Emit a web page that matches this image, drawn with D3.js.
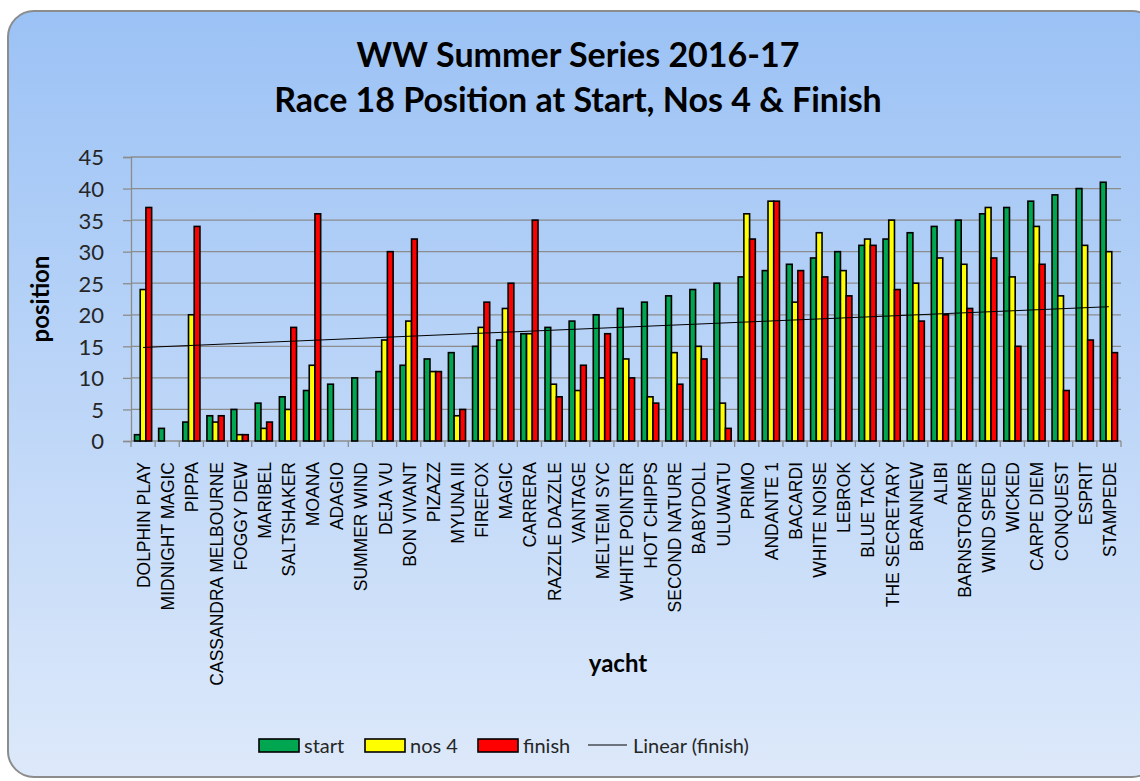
<!DOCTYPE html>
<html lang="en">
<head>
<meta charset="UTF-8">
<title>WW Summer Series 2016-17</title>
<script src="https://d3js.org/d3.v7.min.js"></script>
<style>
  body { margin: 0; background: #fff; }
  svg { display: block; }
  .title { font-family: Lato, "Open Sans", sans-serif; font-weight: bold; font-size: 34px; fill: #000; }
  .ytick text { font-family: Lato, sans-serif; font-size: 22px; fill: #262626; }
  .xcat { font-family: "Liberation Sans", Arial, sans-serif; font-size: 17.5px; fill: #000; }
  .axis-title { font-family: Lato, sans-serif; font-weight: bold; font-size: 24px; fill: #000; }
  .legend text { font-family: Lato, sans-serif; font-size: 20px; fill: #262626; }
</style>
</head>
<body>
<svg width="1140" height="781"></svg>
<script>
// yachts in order of start position
const yachts = ["DOLPHIN PLAY", "MIDNIGHT MAGIC", "PIPPA", "CASSANDRA MELBOURNE", "FOGGY DEW",
  "MARIBEL", "SALTSHAKER", "MOANA", "ADAGIO", "SUMMER WIND", "DEJA VU", "BON VIVANT", "PIZAZZ",
  "MYUNA III", "FIREFOX", "MAGIC", "CARRERA", "RAZZLE DAZZLE", "VANTAGE", "MELTEMI SYC",
  "WHITE POINTER", "HOT CHIPPS", "SECOND NATURE", "BABYDOLL", "ULUWATU", "PRIMO", "ANDANTE 1",
  "BACARDI", "WHITE NOISE", "LEBROK", "BLUE TACK", "THE SECRETARY", "BRANNEW", "ALIBI",
  "BARNSTORMER", "WIND SPEED", "WICKED", "CARPE DIEM", "CONQUEST", "ESPRIT", "STAMPEDE"];

const start = [1, 2, 3, 4, 5, 6, 7, 8, 9, 10, 11, 12, 13, 14, 15, 16, 17, 18, 19, 20, 21,
  22, 23, 24, 25, 26, 27, 28, 29, 30, 31, 32, 33, 34, 35, 36, 37, 38, 39, 40, 41];
const nos4 = [24, 0, 20, 3, 1, 2, 5, 12, 0, 0, 16, 19, 11, 4, 18, 21, 17, 9, 8, 10, 13,
  7, 14, 15, 6, 36, 38, 22, 33, 27, 32, 35, 25, 29, 28, 37, 26, 34, 23, 31, 30];
const finish = [37, 0, 34, 4, 1, 3, 18, 36, 0, 0, 30, 32, 11, 5, 22, 25, 35, 7, 12, 17, 10,
  6, 9, 13, 2, 32, 38, 27, 26, 23, 31, 24, 19, 20, 21, 29, 15, 28, 8, 16, 14];

const seriesNames = ["start", "nos 4", "finish"];
const seriesColors = ["#00a650", "#ffff00", "#ff0000"];
const yTicks = [0, 5, 10, 15, 20, 25, 30, 35, 40, 45];

const svg = d3.select("svg");
const plot = { left: 131, right: 1121, top: 157, bottom: 441 };

// background panel
const defs = svg.append("defs");
const grad = defs.append("linearGradient").attr("id", "bg").attr("x1", 0).attr("y1", 0).attr("x2", 0).attr("y2", 1);
grad.append("stop").attr("offset", "0%").attr("stop-color", "#9bc2f5");
grad.append("stop").attr("offset", "100%").attr("stop-color", "#dde9fa");

svg.append("rect")
  .attr("x", 8).attr("y", 11)
  .attr("width", 1150).attr("height", 766)
  .attr("rx", 26).attr("ry", 26)
  .attr("fill", "url(#bg)")
  .attr("stroke", "#8c8c8c").attr("stroke-width", 2);

// title
svg.append("text").attr("class", "title").attr("x", 578).attr("y", 67)
  .attr("text-anchor", "middle").text("WW Summer Series 2016-17");
svg.append("text").attr("class", "title").attr("x", 578).attr("y", 112)
  .attr("text-anchor", "middle").text("Race 18 Position at Start, Nos 4 & Finish");

// scales
const x = d3.scaleBand().domain(yachts).range([plot.left, plot.right]).paddingInner(0.29).paddingOuter(0.145);
const xSub = d3.scaleBand().domain(seriesNames).range([0, x.bandwidth()]);
const y = d3.scaleLinear().domain([0, 45]).range([plot.bottom, plot.top]);

// gridlines
svg.append("g").selectAll("line").data(yTicks.filter(d => d > 0)).join("line")
  .attr("x1", plot.left).attr("x2", plot.right)
  .attr("y1", d => y(d)).attr("y2", d => y(d))
  .attr("stroke", "#8c8c8c").attr("stroke-width", 1.3);

// y axis
const yAxis = svg.append("g").attr("class", "ytick")
  .attr("transform", `translate(${plot.left},0)`)
  .call(d3.axisLeft(y).tickValues(yTicks).tickSize(8).tickPadding(19));
yAxis.select(".domain").attr("stroke", "#8c8c8c").attr("stroke-width", 1.3);
yAxis.selectAll(".tick line").attr("stroke", "#8c8c8c").attr("stroke-width", 1.3);
yAxis.selectAll("text").attr("dy", "0.36em");

// x axis line + tick marks at category boundaries
const xAxisG = svg.append("g");
xAxisG.append("line").attr("x1", plot.left).attr("x2", plot.right)
  .attr("y1", plot.bottom).attr("y2", plot.bottom)
  .attr("stroke", "#8c8c8c").attr("stroke-width", 1.3);
const step = x.step();
xAxisG.selectAll("line.tk").data(d3.range(yachts.length + 1)).join("line").attr("class", "tk")
  .attr("x1", i => plot.left + i * step).attr("x2", i => plot.left + i * step)
  .attr("y1", plot.bottom).attr("y2", plot.bottom + 6)
  .attr("stroke", "#8c8c8c").attr("stroke-width", 1.3);

// category labels
svg.append("g").selectAll("text").data(yachts).join("text")
  .attr("class", "xcat")
  .attr("transform", d => `translate(${x(d) + x.bandwidth() / 2 + 7},${plot.bottom + 21}) rotate(-90)`)
  .attr("text-anchor", "end")
  .text(d => d);

// bars
const seriesData = [start, nos4, finish];
const groups = svg.append("g").selectAll("g").data(yachts).join("g")
  .attr("transform", d => `translate(${x(d)},0)`);
groups.selectAll("rect")
  .data((d, i) => seriesData.map((s, k) => ({ key: seriesNames[k], value: s[i], color: seriesColors[k] }))
    .filter(v => v.value > 0))
  .join("rect")
  .attr("x", d => xSub(d.key))
  .attr("width", xSub.bandwidth())
  .attr("y", d => y(d.value))
  .attr("height", d => y(0) - y(d.value))
  .attr("fill", d => d.color)
  .attr("stroke", "#000").attr("stroke-width", 1.6);

// linear trendline of finish
const xs = d3.range(1, yachts.length + 1);
const mx = d3.mean(xs), my = d3.mean(finish);
const slope = d3.sum(xs, (v, i) => (v - mx) * (finish[i] - my)) / d3.sum(xs, v => (v - mx) ** 2);
const icpt = my - slope * mx;
const xPos = i => x(yachts[i - 1]) + x.bandwidth() / 2;
svg.append("line")
  .attr("x1", xPos(1)).attr("y1", y(icpt + slope * 1))
  .attr("x2", xPos(yachts.length)).attr("y2", y(icpt + slope * yachts.length))
  .attr("stroke", "#000").attr("stroke-width", 1);

// axis titles
svg.append("text").attr("class", "axis-title")
  .attr("transform", `translate(49,${(plot.top + plot.bottom) / 2}) rotate(-90)`)
  .attr("text-anchor", "middle").text("position");
svg.append("text").attr("class", "axis-title")
  .attr("x", 618).attr("y", 672).attr("text-anchor", "middle").text("yacht");

// legend
const legend = svg.append("g").attr("class", "legend");
const legItems = [
  { name: "start", color: seriesColors[0], x: 259 },
  { name: "nos 4", color: seriesColors[1], x: 365 },
  { name: "finish", color: seriesColors[2], x: 478 }
];
legItems.forEach(it => {
  legend.append("rect").attr("x", it.x).attr("y", 739).attr("width", 40).attr("height", 13)
    .attr("fill", it.color).attr("stroke", "#000").attr("stroke-width", 1.6);
  legend.append("text").attr("x", it.x + 45).attr("y", 753).text(it.name);
});
legend.append("line").attr("x1", 588).attr("x2", 627).attr("y1", 745).attr("y2", 745)
  .attr("stroke", "#000").attr("stroke-width", 1);
legend.append("text").attr("x", 633).attr("y", 753).text("Linear (finish)");
</script>
</body>
</html>
